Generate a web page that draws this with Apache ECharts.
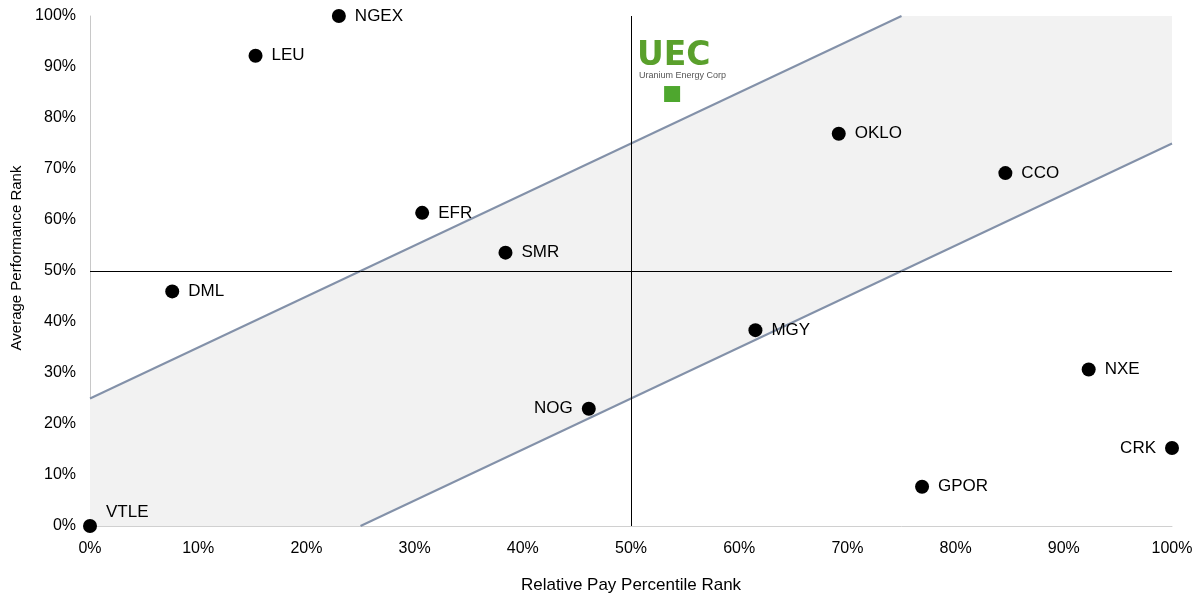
<!DOCTYPE html>
<html>
<head>
<meta charset="utf-8" />
<title>Pay vs Performance</title>
<script src="https://cdn.jsdelivr.net/npm/echarts@6/dist/echarts.min.js"></script>
<style>
html, body { margin: 0; padding: 0; background: #fff; }
#chart { width: 1200px; height: 596px; }
</style>
</head>
<body>
<div id="chart"></div>
<script>
// peers: relative pay percentile (x) vs average performance rank (y), in %
var names = ["NGEX", "LEU", "EFR", "SMR", "DML", "OKLO", "CCO", "MGY", "NXE", "NOG", "CRK", "GPOR", "VTLE"];
var payRank = [23.0, 15.3, 30.7, 38.4, 7.6, 69.2, 84.6, 61.5, 92.3, 46.1, 100, 76.9, 0];
var perfRank = [100, 92.2, 61.4, 53.6, 46.0, 76.9, 69.2, 38.4, 30.7, 23.0, 15.3, 7.7, 0];
var labelSide = ["right", "right", "right", "right", "right", "right", "right", "right", "right", "left", "left", "right", "topRight"];

// the company itself
var uecPay = [53.8];
var uecPerf = [84.7];

// alignment band corners
var bandX = [0, 25, 100, 100, 75, 0];
var bandY = [0, 0, 75, 100, 100, 25];
var upperLine = [[0, 25], [75, 100]];
var lowerLine = [[25, 0], [100, 75]];

var chart = echarts.init(document.getElementById("chart"));

var peerData = [];
for (var i = 0; i < names.length; i++) {
    var pos = labelSide[i];
    var lab = { position: pos === "topRight" ? "right" : pos, distance: 9 };
    if (pos === "topRight") { lab.offset = [0, -14]; }
    peerData.push({ value: [payRank[i], perfRank[i]], name: names[i], label: lab });
}

var band = [];
for (var j = 0; j < bandX.length; j++) band.push([bandX[j], bandY[j]]);

var option = {
    animation: false,
    textStyle: { fontFamily: "Liberation Sans, Arial, sans-serif" },
    grid: { left: 90, right: 28, top: 16, bottom: 70, outerBoundsMode: "none", containLabel: false },
    xAxis: {
        type: "value", min: 0, max: 100, interval: 10,
        name: "Relative Pay Percentile Rank", nameLocation: "middle", nameGap: 51,
        nameTextStyle: { fontSize: 17, color: "#000" },
        axisLine: { show: true, lineStyle: { color: "#d0d0d0" } },
        axisTick: { show: false },
        splitLine: { show: false },
        axisLabel: { formatter: "{value}%", fontSize: 16, color: "#000", margin: 15 }
    },
    yAxis: {
        type: "value", min: 0, max: 100, interval: 10,
        name: "Average Performance Rank", nameLocation: "middle", nameGap: 66,
        nameTextStyle: { fontSize: 15, color: "#000", padding: [0, 0, 0, 26] },
        axisLine: { show: true, lineStyle: { color: "#c8c8c8" } },
        axisTick: { show: false },
        splitLine: { show: false },
        axisLabel: { formatter: "{value}%", fontSize: 16, color: "#000", margin: 14 }
    },
    graphic: [
        { type: "text", left: 637, top: 40, style: { text: "UEC", fontSize: 33, fontWeight: "bold", fill: "#5aa02c", fontFamily: "DejaVu Sans", letterSpacing: 2 } },
        { type: "text", left: 639, top: 71, style: { text: "Uranium Energy Corp", fontSize: 9, fill: "#555" } }
    ],
    series: [
        {
            type: "custom",
            silent: true,
            z: 1,
            renderItem: function (params, api) {
                var pts = band.map(function (p) { return api.coord(p); });
                return { type: "polygon", shape: { points: pts }, style: { fill: "#f2f2f2" } };
            },
            data: [0]
        },
        {
            type: "line", data: upperLine, symbol: "none", silent: true, z: 2,
            lineStyle: { color: "#8391a9", width: 2 }
        },
        {
            type: "line", data: lowerLine, symbol: "none", silent: true, z: 2,
            lineStyle: { color: "#8391a9", width: 2 },
            markLine: {
                silent: true, symbol: "none", label: { show: false },
                lineStyle: { color: "#000", width: 1, type: "solid" },
                data: [{ xAxis: 50 }, { yAxis: 50 }]
            }
        },
        {
            type: "scatter", z: 5,
            symbol: "circle", symbolSize: 14,
            itemStyle: { color: "#000", opacity: 1 },
            label: { show: true, formatter: "{b}", fontSize: 17, color: "#000" },
            data: peerData
        },
        {
            type: "scatter", z: 5,
            symbol: "rect", symbolSize: 16,
            itemStyle: { color: "#4ea72e", opacity: 1 },
            data: [[uecPay[0], uecPerf[0]]]
        }
    ]
};
chart.setOption(option);
</script>
</body>
</html>
